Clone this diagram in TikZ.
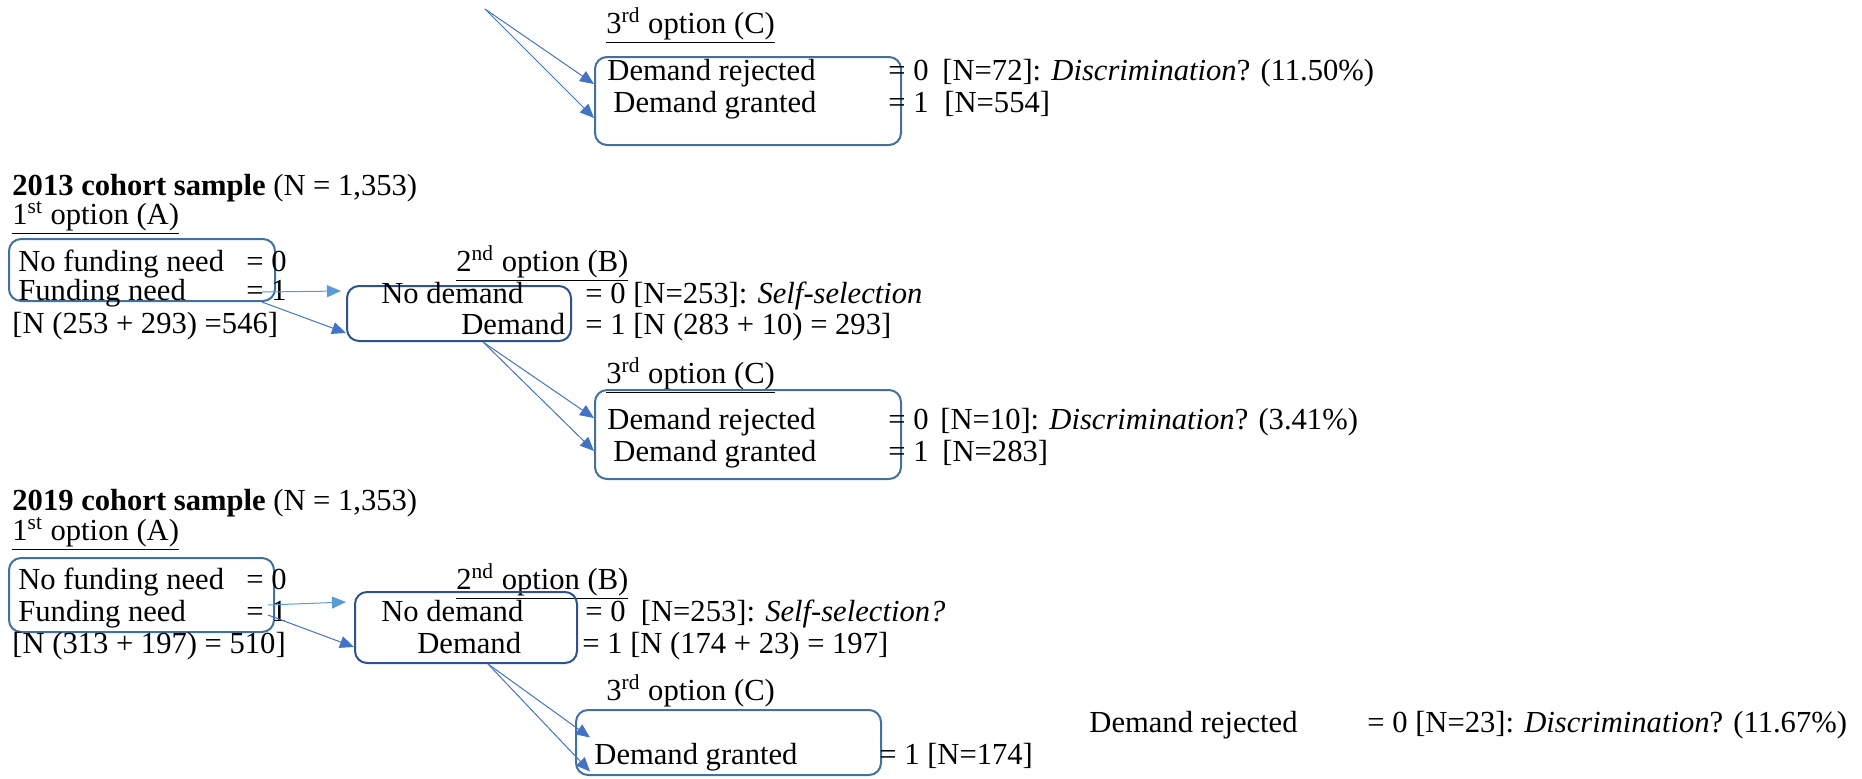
\documentclass[tikz,border=0pt]{standalone}
\usepackage{fontspec}
\setmainfont{Liberation Serif}
\usetikzlibrary{arrows.meta}
\definecolor{boxblue}{HTML}{41719C}
\definecolor{darkblue}{HTML}{2F528F}
\definecolor{arrowblue}{HTML}{4472C4}
\definecolor{lightblue}{HTML}{5B9BD5}

\begin{document}
\begin{tikzpicture}[x=0.5pt,y=-0.5pt]
\tikzstyle{every node}=[font=\fontsize{15.3}{18}\selectfont]
\tikzstyle{txt}=[anchor=base west,inner sep=0pt]
\tikzstyle{box}=[draw=boxblue,line width=1pt,rounded corners=6pt,inner sep=0pt]
\tikzstyle{bbox}=[box,draw=darkblue]
\tikzstyle{link}=[draw=arrowblue,line width=0.5pt,-{Triangle[length=7pt,width=6pt]}]
\tikzstyle{lightlink}=[link,draw=lightblue]
\useasboundingbox (0,0) rectangle (1862,778);

% top: 3rd option of the sample above
\coordinate (b0) at (485,9);
\node[txt] (c1h) at (606,33) {\underline{3\textsuperscript{rd} option (C)}};
\node[box,minimum width=153pt,minimum height=44pt] (c1) at (748,101) {};
\node[txt] (c1r) at (607,80) {Demand rejected};
\node[txt] (c1rv) at (888,80) {= 0};
\node[txt] (c1rn) at (942,80) {[N=72]: \textit{Discrimination}? (11.50\%)};
\node[txt] (c1g) at (613,112) {Demand granted};
\node[txt] (c1gv) at (888,112) {= 1};
\node[txt] (c1gn) at (944,112) {[N=554]};
\draw[link] (b0) -- ([yshift=8.5pt]c1.west);
\draw[link] (b0) -- ([yshift=-8.5pt]c1.west);

% 2013 cohort
\node[txt] (s13) at (12,195) {\textbf{2013 cohort sample} (N = 1,353)};
\node[txt] (a1h) at (12,224) {\underline{1\textsuperscript{st} option (A)}};
\node[box,minimum width=133pt,minimum height=31pt] (a1) at (142,270) {};
\node[txt] (a1n) at (18,271) {No funding need};
\node[txt] (a1nv) at (246,271) {= 0};
\node[txt] (a1f) at (18,300) {Funding need};
\node[txt] (a1fv) at (246,300) {= 1};
\node[txt] (a1s) at (12,333) {[N (253 + 293) =546]};
\coordinate (a1up) at (262,292);
\coordinate (a1dn) at (262,302);

\node[txt] (b1h) at (456,271) {\underline{2\textsuperscript{nd} option (B)}};
\node[bbox,minimum width=112pt,minimum height=27.5pt] (b1) at (459,313.5) {};
\node[txt] (b1n) at (381,303) {No demand};
\node[txt] (b1nv) at (585,303) {= 0 [N=253]: \textit{Self-selection}};
\node[txt] (b1d) at (461,334) {Demand};
\node[txt] (b1dv) at (585,334) {= 1 [N (283 + 10) = 293]};
\draw[lightlink] (a1up) -- ([xshift=-2.5pt,yshift=11.25pt]b1.west);
\draw[link] (a1dn) -- ([yshift=-9.75pt]b1.west);

\node[txt] (c2h) at (606,383) {\underline{3\textsuperscript{rd} option (C)}};
\node[box,minimum width=153pt,minimum height=44.5pt] (c2) at (748,434.5) {};
\node[txt] (c2r) at (607,429) {Demand rejected};
\node[txt] (c2rv) at (888,429) {= 0};
\node[txt] (c2rn) at (940,429) {[N=10]: \textit{Discrimination}? (3.41\%)};
\node[txt] (c2g) at (613,461) {Demand granted};
\node[txt] (c2gv) at (888,461) {= 1};
\node[txt] (c2gn) at (942,461) {[N=283]};
\draw[link] ([xshift=12pt]b1.south) -- ([yshift=8.25pt]c2.west);
\draw[link] ([xshift=12pt]b1.south) -- ([yshift=-8.25pt]c2.west);

% 2019 cohort
\node[txt] (s19) at (12,510) {\textbf{2019 cohort sample} (N = 1,353)};
\node[txt] (a2h) at (12,540) {\underline{1\textsuperscript{st} option (A)}};
\node[box,minimum width=132.5pt,minimum height=37pt] (a2) at (141.5,595) {};
\node[txt] (a2n) at (18,589) {No funding need};
\node[txt] (a2nv) at (246,589) {= 0};
\node[txt] (a2f) at (18,621) {Funding need};
\node[txt] (a2fv) at (246,621) {= 1};
\node[txt] (a2s) at (12,653) {[N (313 + 197) = 510]};
\coordinate (a2up) at (268,605);
\coordinate (a2dn) at (268,615);

\node[txt] (b2h) at (456,589) {\underline{2\textsuperscript{nd} option (B)}};
\node[bbox,minimum width=111pt,minimum height=35.5pt] (b2) at (466,627.5) {};
\node[txt] (b2n) at (381,621) {No demand};
\node[txt] (b2nv) at (585,621) {= 0\enspace[N=253]: \textit{Self-selection?}};
\node[txt] (b2d) at (417,653) {Demand};
\node[txt] (b2dv) at (582,653) {= 1 [N (174 + 23) = 197]};
\draw[lightlink] (a2up) -- ([xshift=-4pt,yshift=12.75pt]b2.west);
\draw[link] (a2dn) -- ([yshift=-9.75pt]b2.west);

\node[txt] (c3h) at (606,700) {\underline{3\textsuperscript{rd} option (C)}};
\node[box,minimum width=152.5pt,minimum height=32.5pt] (c3) at (728.5,742.5) {};
\node[txt] (c3g) at (594,764) {Demand granted};
\node[txt] (c3gv) at (879,764) {= 1 [N=174]};
\node[txt] (c3r) at (1089,732) {Demand rejected};
\node[txt] (c3rv) at (1367,732) {= 0 [N=23]: \textit{Discrimination}? (11.67\%)};
\draw[link] ([xshift=11pt]b2.south) -- ([xshift=7.5pt,yshift=2.5pt]c3.west);
\draw[link] ([xshift=11pt]b2.south) -- ([xshift=7.5pt,yshift=-14.5pt]c3.west);
\end{tikzpicture}
\end{document}
